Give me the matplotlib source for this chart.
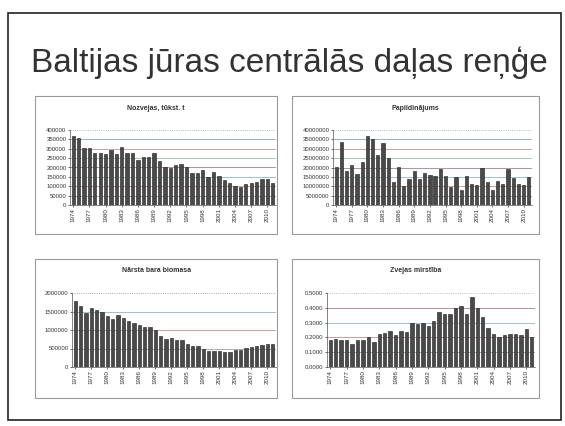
import matplotlib.pyplot as plt
from matplotlib.patches import Rectangle
import numpy as np

plt.rcParams['font.family'] = ['Liberation Sans', 'DejaVu Sans']

years = list(range(1974, 2012))

nozveja = [370000, 355000, 305000, 305000, 280000, 278000, 270000, 295000, 272000, 308000,
           278000, 278000, 240000, 255000, 257000, 275000, 235000, 200000, 198000, 212000,
           220000, 200000, 170000, 168000, 187000, 150000, 178000, 152000, 132000, 115000,
           102000, 95000, 110000, 118000, 125000, 138000, 138000, 117000]

papildinajums = [20.5e6, 33.5e6, 18e6, 21.5e6, 16.5e6, 23e6, 37e6, 35e6, 26.5e6, 33e6,
                 25e6, 12e6, 20.5e6, 10e6, 14e6, 18e6, 14e6, 17e6, 16e6, 15.5e6,
                 19e6, 15.5e6, 9.5e6, 15e6, 8e6, 15.5e6, 11e6, 10.5e6, 19.5e6, 12e6,
                 8e6, 13e6, 11e6, 19e6, 14.5e6, 11e6, 10.5e6, 15e6]

biomasa = [1780000, 1650000, 1450000, 1600000, 1550000, 1500000, 1380000, 1300000, 1400000, 1330000,
           1230000, 1180000, 1140000, 1090000, 1080000, 990000, 840000, 750000, 780000, 740000,
           720000, 620000, 560000, 560000, 500000, 430000, 420000, 420000, 400000, 410000,
           450000, 450000, 520000, 550000, 580000, 590000, 610000, 630000]

mirstiba = [0.18, 0.19, 0.185, 0.18, 0.155, 0.18, 0.18, 0.20, 0.17, 0.225,
            0.23, 0.24, 0.215, 0.245, 0.235, 0.30, 0.29, 0.30, 0.275, 0.31,
            0.37, 0.355, 0.355, 0.40, 0.415, 0.36, 0.47, 0.40, 0.34, 0.265,
            0.225, 0.20, 0.215, 0.22, 0.225, 0.215, 0.255, 0.205]

W, H = 565, 426
fig = plt.figure(figsize=(W / 100, H / 100), dpi=100)

def rect(x0, y0, x1, y1):
    return [x0 / W, 1 - y1 / H, (x1 - x0) / W, (y1 - y0) / H]

# slide frame
fig.patches.append(Rectangle((8 / W, 1 - 420 / H), 553 / W, 407 / H, transform=fig.transFigure,
                             fill=False, edgecolor='#222222', linewidth=1.2))
fig.text(289 / W, 1 - 63 / H, 'Baltijas jūras centrālās daļas reņģe', ha='center', va='center',
         fontsize=24, color='#333333')

grid_cols = ['#a0a0a0', '#d08a8a', '#88b8c8', '#b08080', '#90c0a0', '#c09090', '#80a8c0', '#a0a0a0']

panels = [
    (nozveja, 'Nozvejas, tūkst. t', (70, 130, 276, 205), (35, 96, 277, 234), 400000, 50000, '%d'),
    (papildinajums, 'Papildinājums', (333, 130, 532, 205), (292, 96, 539, 234), 40000000, 5000000, '%d'),
    (biomasa, 'Nārsta bara biomasa', (72, 293, 276, 367), (35, 259, 277, 398), 2000000, 500000, '%d'),
    (mirstiba, 'Zvejas mirstība', (327, 293, 535, 367), (292, 259, 539, 398), 0.5, 0.1, '%.4f'),
]

for vals, title, pa, box, ymax, step, fmt in panels:
    fig.patches.append(Rectangle((box[0] / W, 1 - box[3] / H), (box[2] - box[0]) / W,
                                 (box[3] - box[1]) / H, transform=fig.transFigure,
                                 fill=False, edgecolor='#9a9a9a', linewidth=0.8))
    fig.text((box[0] + box[2]) / 2 / W, 1 - (box[1] + 12) / H, title, ha='center', va='center',
             fontsize=5, fontweight='bold', color='#333333')
    ax = fig.add_axes(rect(*pa))
    x = np.arange(len(years))
    ticks = np.arange(0, ymax + step / 2, step)
    for i, t in enumerate(ticks[1:]):
        ls = ':' if i == len(ticks) - 2 else '-'
        ax.axhline(t, color=grid_cols[i % len(grid_cols)], linewidth=0.6, linestyle=ls, zorder=0)
    ax.bar(x, vals, width=0.62, color='#4a4a4a', edgecolor='#1a1a1a', linewidth=0.4, zorder=2)
    ax.set_xlim(-0.6, len(years) - 0.4)
    ax.set_ylim(0, ymax)
    ax.set_yticks(ticks)
    ax.set_yticklabels([fmt % t for t in ticks], fontsize=4.3, color='#333333')
    ax.set_xticks(x[::3])
    ax.set_xticklabels([str(y) for y in years[::3]], rotation=90, fontsize=4.5, color='#333333')
    ax.tick_params(length=1.5, width=0.4, pad=1)
    for s in ['top', 'right']:
        ax.spines[s].set_visible(False)
    for s in ['left', 'bottom']:
        ax.spines[s].set_linewidth(0.5)
        ax.spines[s].set_color('#555555')
    ax.patch.set_alpha(0)

fig.savefig('out.png', dpi=100)
